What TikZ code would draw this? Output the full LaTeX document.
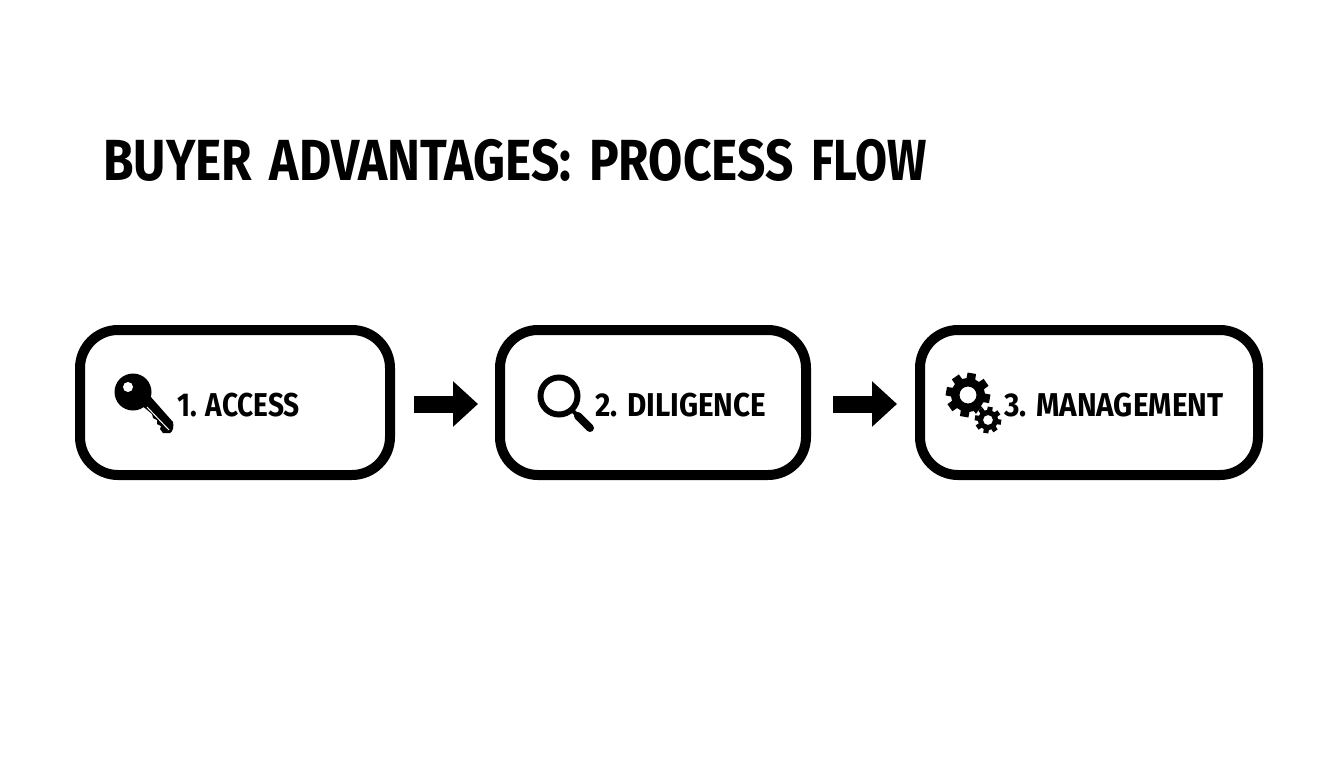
\documentclass[tikz,border=0pt]{standalone}
\usepackage{fontspec}
\usetikzlibrary{arrows.meta}
\newfontfamily\titlefont[FakeStretch=0.855,WordSpace=1.5]{Fira Sans Bold}
\newfontfamily\titlefontb[FakeStretch=0.80]{Fira Sans Bold}
\newfontfamily\boxfont[FakeStretch=0.90]{Fira Sans Bold}
\newfontfamily\boxfontb[FakeStretch=0.85]{Fira Sans Bold}
\newcommand{\gearicon}[5]{%
  \fill[white] (#1,#2) circle[radius=#4+3.5];
  \fill[black,even odd rule]
    ({#1+#4*cos(-5)},{#2+#4*sin(-5)})
    \foreach \k in {0,...,7} {
      -- ({#1+#4*cos(\k*45+10-15)},{#2+#4*sin(\k*45+10-15)})
      -- ({#1+#3*cos(\k*45+10-11)},{#2+#3*sin(\k*45+10-11)})
      -- ({#1+#3*cos(\k*45+10+11)},{#2+#3*sin(\k*45+10+11)})
      -- ({#1+#4*cos(\k*45+10+15)},{#2+#4*sin(\k*45+10+15)})
    } -- cycle
    (#1,#2) circle[radius=#5];
}
\tikzset{
  card/.style={draw=black,line width=10pt,rounded corners=38pt,fill=white,minimum height=145pt,inner sep=0pt,anchor=north west},
  cardtext/.style={font=\boxfont\fontsize{33}{33}\selectfont,anchor=base west,inner sep=0pt,text=black},
  flowarrow/.style={line width=17pt,-{Triangle[length=25pt,width=44pt]},black},
}
\begin{document}
\begin{tikzpicture}[x=1pt,y=-1pt]
\useasboundingbox (0,0) rectangle (1344,768);
\fill[white] (0,0) rectangle (1344,768);
\node[anchor=base west,inner sep=0pt,font=\titlefont\fontsize{58}{58}\selectfont] (title) at (103,180) {BUYER ADVANTAGES: PROCESS {\titlefontb\fontsize{58}{58}\selectfont FLOW}};
\node[card,minimum width=310pt] (a) at (75,325) {};
\node[card,minimum width=306pt] (b) at (495,325) {};
\node[card,minimum width=338pt] (c) at (915,325) {};
\draw[flowarrow,shorten <=19pt,shorten >=17pt] ([yshift=-1.5pt]a.east) -- ([yshift=-1.5pt]b.west);
\draw[flowarrow,shorten <=22pt,shorten >=18pt] ([yshift=-1.5pt]b.east) -- ([yshift=-1.5pt]c.west);
\node[cardtext,font=\boxfontb\fontsize{33}{33}\selectfont] (ta) at (177,416) {1. ACCESS};
\node[cardtext] (tb) at (595,416) {2. DILIGENCE};
\node[cardtext] (tc) at (1004,416) {3. MANAGEMENT};
% key
\fill[black] (133,392) circle[radius=18.5];
\fill[black] (140,404) -- (150,396) -- (173,422) .. controls (174,426) and (173,432) .. (170,433) -- (163,433) -- (160,429) -- (161,426) -- (157,424) -- (157,420) -- (153,418) -- (152,414) -- cycle;
\fill[white] (128,387) circle[radius=5];
\draw[white,line width=1pt] (147,407) -- (169,430);
% magnifier
\draw[black,line width=6pt] (559,396) circle[radius=18.5];
\draw[black,line width=4pt] (572,410) -- (580,418);
\draw[black,line width=8pt,line cap=round] (578,416) -- (590,428);
% gears
\gearicon{968}{395}{22.5}{17}{8.5}
\gearicon{988}{420}{13.5}{10}{5}
\end{tikzpicture}
\end{document}
